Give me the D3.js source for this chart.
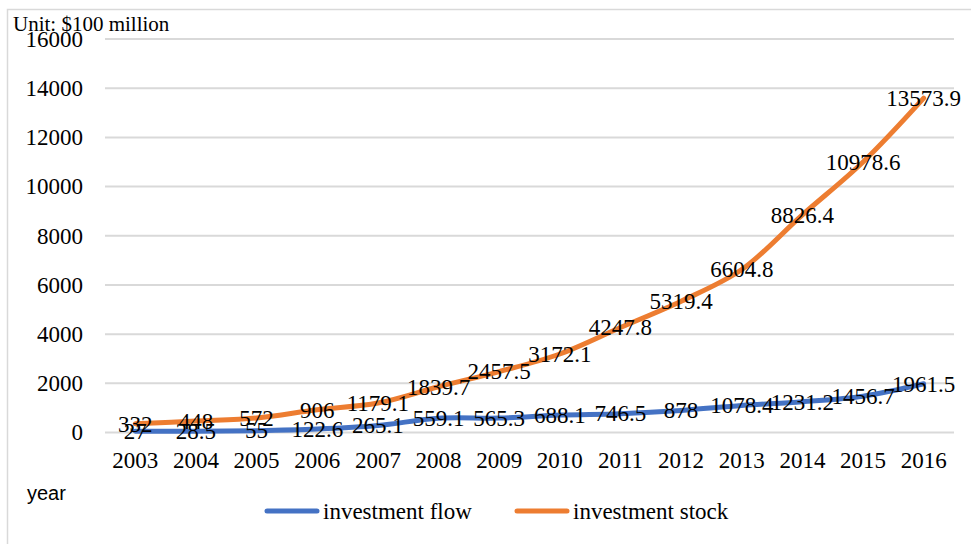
<!DOCTYPE html>
<html>
<head>
<meta charset="utf-8">
<script src="https://cdn.jsdelivr.net/npm/d3@7"></script>
<style>
  html, body { margin: 0; padding: 0; background: #fff; }
  svg { display: block; }
</style>
</head>
<body>
<svg id="chart" width="971" height="544"></svg>
<script>
// Chinese outward investment, unit: $100 million
const years = ["2003","2004","2005","2006","2007","2008","2009","2010","2011","2012","2013","2014","2015","2016"];
const flowValues = [27, 28.5, 55, 122.6, 265.1, 559.1, 565.3, 688.1, 746.5, 878, 1078.4, 1231.2, 1456.7, 1961.5];
const stockValues = [332, 448, 572, 906, 1179.1, 1839.7, 2457.5, 3172.1, 4247.8, 5319.4, 6604.8, 8826.4, 10978.6, 13573.9];
const yTicks = [0, 2000, 4000, 6000, 8000, 10000, 12000, 14000, 16000];
const seriesNames = ["investment flow", "investment stock"];
const seriesColors = ["#4472C4", "#ED7D31"];

const svg = d3.select("#chart");
const serif = "'Liberation Serif', 'Times New Roman', serif";
const sans = "'Liberation Sans', Arial, sans-serif";

// outer frame
svg.append("rect")
  .attr("x", 7.5).attr("y", 9.5)
  .attr("width", 980).attr("height", 560)
  .attr("fill", "none").attr("stroke", "#d9d9d9").attr("stroke-width", 1.5);

const plot = { left: 105, right: 954, top: 38.5, bottom: 432 };

const x = d3.scaleBand().domain(years).range([plot.left, plot.right]);
const y = d3.scaleLinear().domain([0, 16000]).range([plot.bottom, plot.top]);
const cx = d => x(d) + x.bandwidth() / 2;

// gridlines + y labels
const yAxis = d3.axisLeft(y).tickValues(yTicks).tickSize(-(plot.right - plot.left)).tickPadding(22).tickFormat(d3.format("d"));
const gy = svg.append("g").attr("transform", `translate(${plot.left},0)`).call(yAxis);
gy.select(".domain").remove();
gy.selectAll(".tick line").attr("stroke", "#d9d9d9").attr("stroke-width", 2);
gy.selectAll(".tick text").attr("font-family", serif).attr("font-size", 23).attr("fill", "#000").attr("dy", "0.34em");

// x labels
const xAxis = d3.axisBottom(x).tickSize(0).tickPadding(20);
const gx = svg.append("g").attr("transform", `translate(0,${plot.bottom})`).call(xAxis);
gx.select(".domain").remove();
gx.selectAll(".tick text").attr("font-family", serif).attr("font-size", 23).attr("fill", "#000");

// smoothed lines
const line = d3.line().x((d, i) => cx(years[i])).y(d => y(d)).curve(d3.curveCatmullRom.alpha(0.5));
[flowValues, stockValues].forEach((vals, k) => {
  svg.append("path")
    .datum(vals)
    .attr("d", line)
    .attr("fill", "none")
    .attr("stroke", seriesColors[k])
    .attr("stroke-width", 5)
    .attr("stroke-linecap", "round")
    .attr("stroke-linejoin", "round");
});

// value labels centred on points
[flowValues, stockValues].forEach(vals => {
  svg.append("g").selectAll("text").data(vals).join("text")
    .attr("x", (d, i) => cx(years[i]))
    .attr("y", d => y(d))
    .attr("dy", "0.34em")
    .attr("text-anchor", "middle")
    .attr("font-family", serif).attr("font-size", 23).attr("fill", "#000")
    .text(d => d);
});

// unit label
svg.append("text").attr("x", 13).attr("y", 31)
  .attr("font-family", serif).attr("font-size", 21).attr("fill", "#000")
  .text("Unit: $100 million");

// axis title
svg.append("text").attr("x", 27).attr("y", 500)
  .attr("font-family", sans).attr("font-size", 20).attr("fill", "#000")
  .text("year");

// legend
const legendX = [265, 515];
seriesNames.forEach((name, k) => {
  const g = svg.append("g");
  g.append("line")
    .attr("x1", legendX[k] + 2).attr("x2", legendX[k] + 52)
    .attr("y1", 511).attr("y2", 511)
    .attr("stroke", seriesColors[k]).attr("stroke-width", 5).attr("stroke-linecap", "round");
  g.append("text")
    .attr("x", legendX[k] + 58).attr("y", 511).attr("dy", "0.34em")
    .attr("font-family", serif).attr("font-size", 23).attr("fill", "#000")
    .text(name);
});
</script>
</body>
</html>
